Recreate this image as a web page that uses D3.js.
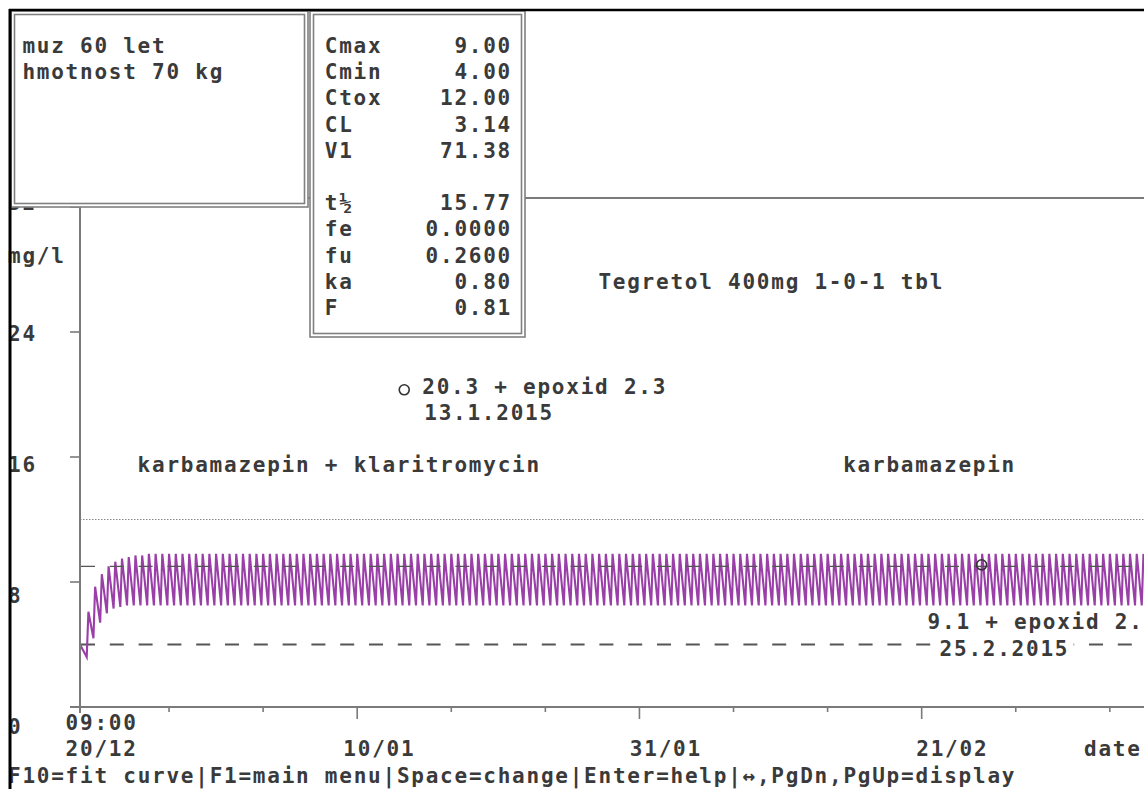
<!DOCTYPE html>
<html>
<head>
<meta charset="utf-8">
<script src="https://cdn.jsdelivr.net/npm/d3@7"></script>
<style>
body { margin: 0; background: #fff; }
text { font-family: "DejaVu Sans Mono", monospace; font-size: 21px; font-weight: bold; fill: #3a3a3a; letter-spacing: 1.76px; }
</style>
</head>
<body>
<svg id="chart" width="1144" height="789"></svg>
<script>
// patient info + model parameters (left boxes)
var patientLines = ["muz 60 let", "hmotnost 70 kg"];
var paramNames  = ["Cmax", "Cmin", "Ctox", "CL", "V1", "", "t½", "fe", "fu", "ka", "F"];
var paramValues = ["9.00", "4.00", "12.00", "3.14", "71.38", "", "15.77", "0.0000", "0.2600", "0.80", "0.81"];

// reference levels, mg/l
var cmax = 9, cmin = 4, ctox = 12;

// y axis
var yTicks = [0, 8, 16, 24, 32];

// x axis: time from first sample
var startTime = new Date(2014, 11, 20, 9, 0);
var endTime = new Date(2015, 2, 9, 13, 0);
var firstDose = new Date(2014, 11, 20, 21, 0);   // 1-0-1 -> every 12 h
var majorDates = [new Date(2015, 0, 10), new Date(2015, 0, 31), new Date(2015, 1, 21)];
var majorLabels = ["10/01", "31/01", "21/02"];

// concentration at start, and per dose: level just before dose / peak after it
var startLevel = 4.0;
var troughs = [
  3.2, 4.4, 5.4, 6.0, 6.3, 6.4, 6.5, 6.5, 6.5, 6.5,
  6.5, 6.5, 6.5, 6.5, 6.5, 6.5, 6.5, 6.5, 6.5, 6.5,
  6.5, 6.5, 6.5, 6.5, 6.5, 6.5, 6.5, 6.5, 6.5, 6.5,
  6.5, 6.5, 6.5, 6.5, 6.5, 6.5, 6.5, 6.5, 6.5, 6.5,
  6.5, 6.5, 6.5, 6.5, 6.5, 6.5, 6.5, 6.5, 6.5, 6.5,
  6.5, 6.5, 6.5, 6.5, 6.5, 6.5, 6.5, 6.5, 6.5, 6.5,
  6.5, 6.5, 6.5, 6.5, 6.5, 6.5, 6.5, 6.5, 6.5, 6.5,
  6.5, 6.5, 6.5, 6.5, 6.5, 6.5, 6.5, 6.5, 6.5, 6.5,
  6.5, 6.5, 6.5, 6.5, 6.5, 6.5, 6.5, 6.5, 6.5, 6.5,
  6.5, 6.5, 6.5, 6.5, 6.5, 6.5, 6.5, 6.5, 6.5, 6.5,
  6.5, 6.5, 6.5, 6.5, 6.5, 6.5, 6.5, 6.5, 6.5, 6.5,
  6.5, 6.5, 6.5, 6.5, 6.5, 6.5, 6.5, 6.5, 6.5, 6.5,
  6.5, 6.5, 6.5, 6.5, 6.5, 6.5, 6.5, 6.5, 6.5, 6.5,
  6.5, 6.5, 6.5, 6.5, 6.5, 6.5, 6.5, 6.5, 6.5, 6.5,
  6.5, 6.5, 6.5, 6.5, 6.5, 6.5, 6.5, 6.5, 6.5, 6.5,
  6.5, 6.5, 6.5, 6.5, 6.5, 6.5, 6.5, 6.5, 6.5, 6.5
];
var peaks = [
  6.1, 7.7, 8.5, 9.0, 9.3, 9.5, 9.6, 9.7, 9.7, 9.8,
  9.8, 9.8, 9.8, 9.8, 9.8, 9.8, 9.8, 9.8, 9.8, 9.8,
  9.8, 9.8, 9.8, 9.8, 9.8, 9.8, 9.8, 9.8, 9.8, 9.8,
  9.8, 9.8, 9.8, 9.8, 9.8, 9.8, 9.8, 9.8, 9.8, 9.8,
  9.8, 9.8, 9.8, 9.8, 9.8, 9.8, 9.8, 9.8, 9.8, 9.8,
  9.8, 9.8, 9.8, 9.8, 9.8, 9.8, 9.8, 9.8, 9.8, 9.8,
  9.8, 9.8, 9.8, 9.8, 9.8, 9.8, 9.8, 9.8, 9.8, 9.8,
  9.8, 9.8, 9.8, 9.8, 9.8, 9.8, 9.8, 9.8, 9.8, 9.8,
  9.8, 9.8, 9.8, 9.8, 9.8, 9.8, 9.8, 9.8, 9.8, 9.8,
  9.8, 9.8, 9.8, 9.8, 9.8, 9.8, 9.8, 9.8, 9.8, 9.8,
  9.8, 9.8, 9.8, 9.8, 9.8, 9.8, 9.8, 9.8, 9.8, 9.8,
  9.8, 9.8, 9.8, 9.8, 9.8, 9.8, 9.8, 9.8, 9.8, 9.8,
  9.8, 9.8, 9.8, 9.8, 9.8, 9.8, 9.8, 9.8, 9.8, 9.8,
  9.8, 9.8, 9.8, 9.8, 9.8, 9.8, 9.8, 9.8, 9.8, 9.8,
  9.8, 9.8, 9.8, 9.8, 9.8, 9.8, 9.8, 9.8, 9.8, 9.8,
  9.8, 9.8, 9.8, 9.8, 9.8, 9.8, 9.8, 9.8, 9.8, 9.8
];

// measured samples
var sampleDates  = [new Date(2015, 0, 13, 12, 0), new Date(2015, 1, 25, 11, 0)];
var sampleValues = [20.3, 9.1];
var sampleText   = ["20.3 + epoxid 2.3", "9.1 + epoxid 2.2"];
var sampleDay    = ["13.1.2015", "25.2.2015"];

var svg = d3.select("#chart");
var x = d3.scaleTime().domain([startTime, endTime]).range([80, 1144]);
var y = d3.scaleLinear().domain([0, 32]).range([707, 207]);

// text sits on a character grid
function col(c) { return 8 + c * 14.4; }
function row(r) { return 46 + r * 26.2; }
function putText(str, xx, yc) {
    return svg.append("text").attr("x", xx).attr("y", yc + 7).text(str);
}

var axisColor = "#7a7a7a";

// plot frame top
svg.append("line").attr("x1", 80).attr("x2", 1144).attr("y1", 198).attr("y2", 198)
    .attr("stroke", axisColor).attr("stroke-width", 2);

// ctox dotted, cmin dashed
svg.append("line").attr("x1", 80).attr("x2", 1144).attr("y1", y(ctox)).attr("y2", y(ctox))
    .attr("stroke", "#888").attr("stroke-width", 1.2).attr("stroke-dasharray", "1.5,1.5");
svg.append("line").attr("x1", 81).attr("x2", 1144).attr("y1", y(cmin)).attr("y2", y(cmin))
    .attr("stroke", "#555").attr("stroke-width", 1.8).attr("stroke-dasharray", "14,14.8");

// concentration curve
var doseTimes = d3.timeHour.range(firstDose, endTime, 12);
var pts = [{t: startTime, v: startLevel}];
doseTimes.forEach(function(d, i) {
    pts.push({t: d, v: troughs[i]});
    pts.push({t: d3.timeHour.offset(d, 3), v: peaks[i]});
});
var line = d3.line().x(function(d) { return x(d.t); }).y(function(d) { return y(d.v); });
svg.append("path").datum(pts).attr("d", line)
    .attr("fill", "none").attr("stroke", "#9a3fa8").attr("stroke-width", 2.1);

// cmax dashed over the curve
svg.append("line").attr("x1", 81).attr("x2", 1144).attr("y1", y(cmax)).attr("y2", y(cmax))
    .attr("stroke", "#555").attr("stroke-width", 1.4).attr("stroke-dasharray", "14,14.8");

// axes
svg.append("line").attr("x1", 80).attr("x2", 80).attr("y1", 198).attr("y2", 713)
    .attr("stroke", axisColor).attr("stroke-width", 2);
svg.append("line").attr("x1", 70).attr("x2", 1144).attr("y1", y(0)).attr("y2", y(0))
    .attr("stroke", axisColor).attr("stroke-width", 2);

yTicks.forEach(function(v) {
    if (v > 0) {
        svg.append("line").attr("x1", 70).attr("x2", 80).attr("y1", y(v)).attr("y2", y(v))
            .attr("stroke", axisColor).attr("stroke-width", 1.6);
    }
    putText(String(v), col(0), row(6 + 5 * (32 - v) / 8));
});
putText("mg/l", col(0), row(8));

var weekTicks = d3.timeDay.range(new Date(2014, 11, 27), endTime, 7);
weekTicks.forEach(function(d) {
    var isMajor = majorDates.some(function(m) { return +m === +d; });
    svg.append("line").attr("x1", x(d)).attr("x2", x(d)).attr("y1", y(0)).attr("y2", y(0) + (isMajor ? 12 : 5))
        .attr("stroke", axisColor).attr("stroke-width", 1.6);
});

putText("09:00", col(4), 723);
putText("20/12", col(4), 749);
majorDates.forEach(function(d, i) {
    var tx = x(d);
    putText(majorLabels[i], tx - 18 + 0.015 * (tx - 80), 749);
});
putText("date", 1084, 749);

// annotations
putText("Tegretol 400mg 1-0-1 tbl", col(41), row(9));
putText("karbamazepin + klaritromycin", col(9), row(16));
putText("karbamazepin", col(58), row(16));

sampleDates.forEach(function(d, i) {
    svg.append("circle").attr("cx", x(d)).attr("cy", y(sampleValues[i])).attr("r", 5)
        .attr("fill", "none").attr("stroke", "#333").attr("stroke-width", 1.6);
});
var s0 = x(sampleDates[0]);
putText(sampleText[0], s0 + 18, row(13));
putText(sampleDay[0], s0 + 20, row(14));
var s1 = x(sampleDates[1]);
putText(sampleText[1], s1 - 54, row(22));
svg.append("rect").attr("x", s1 - 46).attr("y", row(23) - 12).attr("width", 138).attr("height", 24).attr("fill", "#fff");
putText(sampleDay[1], s1 - 42, row(23));

// info boxes (double border)
function box(x0, y0, w, h) {
    svg.append("rect").attr("x", x0).attr("y", y0).attr("width", w).attr("height", h)
        .attr("fill", "#fff").attr("stroke", "#808080").attr("stroke-width", 1.6);
    svg.append("rect").attr("x", x0 + 3.5).attr("y", y0 + 3.5).attr("width", w - 7).attr("height", h - 7)
        .attr("fill", "none").attr("stroke", "#808080").attr("stroke-width", 1.6);
}
box(11, 11, 297, 196);
box(310, 11, 215, 326);

patientLines.forEach(function(s, i) { putText(s, col(1), row(i)); });
paramNames.forEach(function(s, i) {
    if (!s) return;
    putText(s, col(22), row(i));
    putText(paramValues[i], col(35 - paramValues[i].length), row(i));
});

// footer
putText("F10=fit curve|F1=main menu|Space=change|Enter=help|↔,PgDn,PgUp=display", col(0), 776);

// screen frame
svg.append("line").attr("x1", 9).attr("x2", 1144).attr("y1", 10).attr("y2", 10)
    .attr("stroke", "#000").attr("stroke-width", 2.5);
svg.append("line").attr("x1", 10).attr("x2", 10).attr("y1", 9).attr("y2", 789)
    .attr("stroke", "#000").attr("stroke-width", 3);
</script>
</body>
</html>
